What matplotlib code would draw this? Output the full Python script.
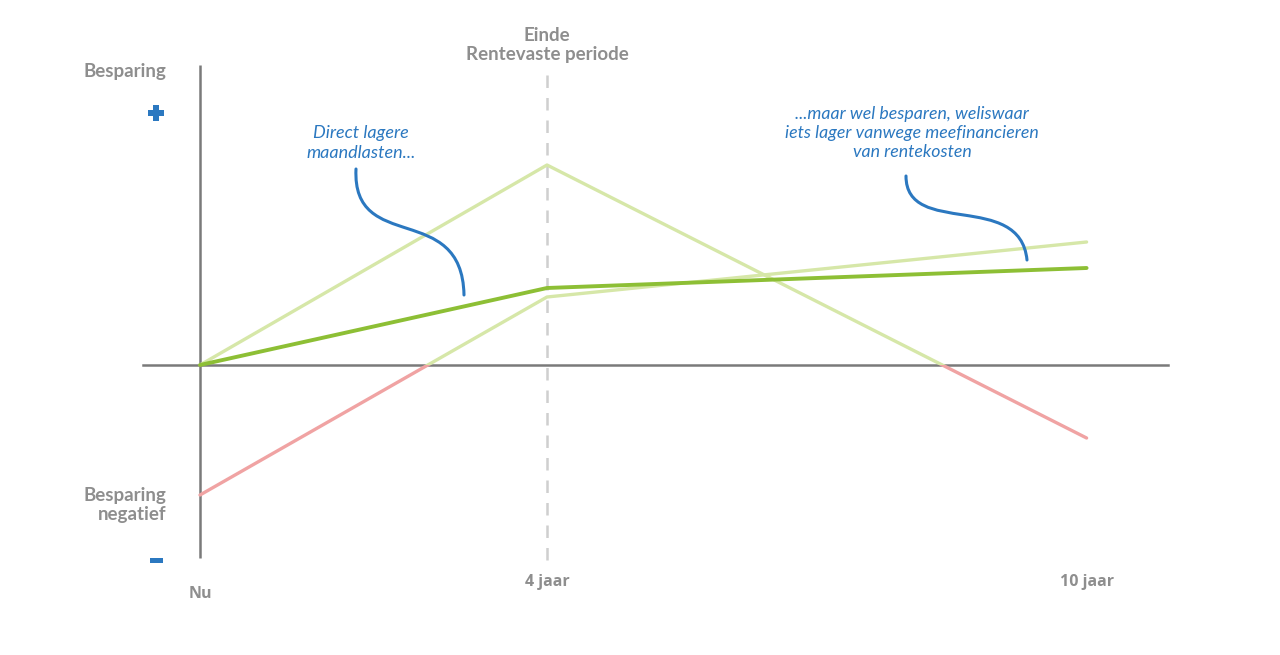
import numpy as np
import matplotlib
matplotlib.use("Agg")
import matplotlib.pyplot as plt
from matplotlib.path import Path
from matplotlib.patches import PathPatch, Rectangle

# x positions of the time points (Nu, 4 jaar, 10 jaar)
x_pos = [0, 4, 10.22]
x_labels = ["Nu", "4 jaar", "10 jaar"]

# three scenarios, savings relative to zero line
peak_line = [0.0, 2.0, -0.73]
late_line = [-1.3, 0.68, 1.23]
main_line = [0.0, 0.77, 0.97]

LIGHT = "#d6e7a8"
DARK = "#8dbf35"
PINK = "#f0a3a3"
BLUE = "#2b78c0"
GRAY = "#8e8e8e"
AXIS = "#7a7a7a"

XS, Y0S = 86.75, 100.0  # px per unit


def px(x, y):
    """pixel (from top-left) -> data coords"""
    return (x - 200) / XS, (365 - y) / Y0S


fig = plt.figure(figsize=(12.8, 6.55), dpi=100)
ax = fig.add_axes([0, 0, 1, 1])
ax.set_xlim(-200 / XS, 1080 / XS)
ax.set_ylim(-290 / Y0S, 365 / Y0S)
ax.axis("off")

# axes
ax.plot([0, 0], [px(0, 558)[1], px(0, 65)[1]], color=AXIS, lw=1.8, solid_capstyle="butt")
ax.plot([px(143, 0)[0], px(1168, 0)[0]], [0, 0], color=AXIS, lw=1.8)
ax.plot([4, 4], [px(0, 560)[1], px(0, 70)[1]], color="#cfcfcf", lw=1.8,
        dashes=(5, 4))

# light lines: green above zero, pink below
pos_clip = Rectangle((-5, 0), 30, 10, transform=ax.transData)
neg_clip = Rectangle((-5, -10), 30, 10, transform=ax.transData)
for ys in (peak_line, late_line):
    l1, = ax.plot(x_pos, ys, color=LIGHT, lw=2.4, solid_capstyle="round")
    l1.set_clip_path(pos_clip)
    l2, = ax.plot(x_pos, ys, color=PINK, lw=2.4, solid_capstyle="round")
    l2.set_clip_path(neg_clip)
ax.plot(x_pos, main_line, color=DARK, lw=2.8, solid_capstyle="round", zorder=5)

# x labels
font = "Open Sans"
ax.text(x_pos[0], px(0, 594)[1], x_labels[0], ha="center", va="center",
        color=GRAY, fontsize=11.5, fontweight="bold", family=font)
for x, lab in zip(x_pos[1:], x_labels[1:]):
    ax.text(x, px(0, 582)[1], lab, ha="center", va="center",
            color=GRAY, fontsize=11.5, fontweight="bold", family=font)

# y labels
ax.text(*px(166, 71), "Besparing", ha="right", va="center", color=GRAY,
        fontsize=13.5, fontweight="bold", family="Lato")
ax.text(*px(166, 505), "Besparing\nnegatief", ha="right", va="center", color=GRAY,
        fontsize=13.5, fontweight="bold", family="Lato", linespacing=1.2)
ax.plot(*px(156, 113), marker="P", ms=11, color=BLUE, mec=BLUE, mew=0)
ax.add_patch(Rectangle(px(150, 563), 13 / XS, 5 / Y0S, color=BLUE, lw=0))

ax.text(*px(547, 45), "Einde\nRentevaste periode", ha="center", va="center",
        color=GRAY, fontsize=13.5, fontweight="bold", family="Lato", linespacing=1.2)

# annotations
ax.text(*px(361, 143), "Direct lagere\nmaandlasten...", ha="center", va="center",
        color=BLUE, fontsize=13, style="italic", family="Lato", linespacing=1.25)
ax.text(*px(912, 133), "...maar wel besparen, weliswaar\niets lager vanwege meefinancieren\nvan rentekosten",
        ha="center", va="center", color=BLUE, fontsize=12.8, style="italic",
        family="Lato", linespacing=1.25)


def squiggle(p0, c1, c2, p3):
    verts = [px(*p0), px(*c1), px(*c2), px(*p3)]
    codes = [Path.MOVETO, Path.CURVE4, Path.CURVE4, Path.CURVE4]
    ax.add_patch(PathPatch(Path(verts, codes), fill=False, edgecolor=BLUE,
                           lw=2.2, capstyle="round", zorder=6))


squiggle((356, 169), (352, 255), (462, 200), (464, 295))
squiggle((906, 176), (906, 238), (1020, 190), (1027, 260))

fig.savefig("out.png", dpi=100, facecolor="white")
